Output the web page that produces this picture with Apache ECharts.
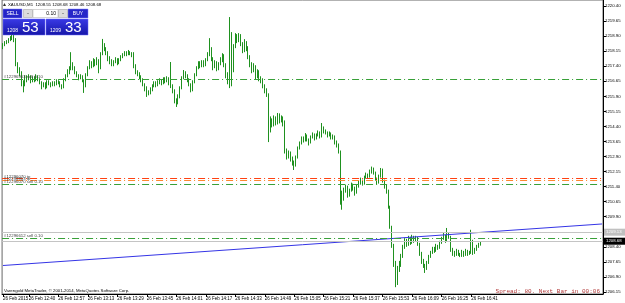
<!DOCTYPE html>
<html><head><meta charset="utf-8">
<script src="https://cdn.jsdelivr.net/npm/echarts@6/dist/echarts.min.js"></script>
<style>html,body{margin:0;padding:0;background:#fff}#c{width:625px;height:303px}</style>
</head><body><div id="c"></div>
<script>
// ---- data ----
const firstOpen = 1218.35;
const closes = [
1218.45,1218.55,1218.60,1218.70,1218.80,1218.85,1218.75,1217.50,1217.20,1217.05,
1216.55,1216.45,1216.80,1216.75,1216.85,1216.65,1216.80,1216.70,1216.90,1216.75,
1216.60,1216.40,1216.50,1216.35,1216.60,1216.55,1216.45,1216.55,1216.50,1216.65,
1216.60,1216.45,1216.35,1216.70,1216.90,1217.10,1217.25,1217.50,1217.30,1217.10,
1216.95,1216.80,1216.90,1216.70,1216.40,1216.95,1217.30,1217.55,1217.40,1217.65,
1217.50,1217.70,1217.30,1218.00,1218.45,1218.30,1218.10,1217.80,1217.65,1217.50,
1217.60,1217.75,1217.55,1217.70,1217.85,1217.95,1218.05,1218.00,1218.10,1218.05,
1217.95,1217.40,1217.10,1217.00,1216.85,1216.70,1216.50,1216.30,1216.00,1216.10,
1216.25,1216.40,1216.55,1216.45,1216.60,1216.70,1216.55,1216.75,1216.65,1216.80,
1216.55,1216.45,1216.20,1215.70,1215.60,1215.90,1216.30,1216.80,1217.05,1216.90,
1216.70,1216.50,1216.20,1216.60,1216.95,1217.30,1217.55,1217.40,1217.60,1217.45,
1217.70,1218.00,1218.30,1217.80,1217.40,1217.60,1217.30,1217.50,1217.70,1217.95,
1217.50,1217.00,1216.70,1218.80,1217.20,1218.40,1218.90,1218.70,1218.95,1218.50,
1218.20,1218.60,1218.30,1217.90,1217.50,1217.20,1217.40,1216.90,1217.10,1216.80,
1216.70,1216.40,1216.20,1216.00,1214.20,1214.70,1214.50,1214.80,1214.60,1215.00,
1214.70,1214.85,1214.55,1213.20,1212.90,1213.10,1212.80,1212.60,1212.50,1212.85,
1213.30,1213.55,1213.80,1213.70,1213.95,1213.75,1213.60,1213.85,1214.00,1213.80,
1213.95,1214.10,1213.90,1214.30,1214.15,1214.10,1213.95,1214.05,1213.85,1213.90,
1213.60,1213.50,1213.15,1211.00,1210.80,1211.20,1211.40,1211.00,1211.20,1211.50,
1211.30,1211.10,1211.40,1211.60,1211.70,1211.55,1211.85,1212.00,1211.90,1212.15,
1212.30,1212.10,1211.80,1211.60,1211.90,1212.25,1211.70,1211.40,1211.20,1210.40,
1209.40,1208.50,1207.60,1206.60,1207.30,1207.50,1207.90,1208.40,1208.70,1208.50,
1208.80,1208.60,1208.90,1208.70,1208.85,1208.55,1208.10,1207.70,1207.50,1207.30,
1207.60,1207.90,1208.10,1208.30,1208.20,1208.45,1208.35,1208.60,1208.80,1208.95,
1208.70,1209.00,1208.90,1208.30,1208.10,1208.00,1208.20,1208.05,1207.95,1208.15,
1208.00,1208.20,1208.05,1208.10,1208.70,1208.10,1208.25,1208.40,1208.55,1208.68
];
const highs = [
1218.55,1218.65,1218.70,1218.80,1218.90,1218.96,1218.95,1218.80,1217.60,1217.35,
1217.15,1216.70,1216.95,1216.95,1217.00,1216.95,1216.90,1216.90,1217.00,1216.95,
1216.80,1216.65,1216.60,1216.60,1216.70,1216.70,1216.60,1216.65,1216.65,1216.75,
1216.70,1216.65,1216.50,1216.80,1217.00,1217.25,1217.40,1218.10,1217.60,1217.40,
1217.15,1217.00,1217.00,1216.95,1216.75,1217.05,1217.40,1217.70,1217.65,1217.80,
1217.75,1217.85,1217.75,1218.10,1218.76,1218.55,1218.35,1218.15,1217.90,1217.75,
1217.70,1217.85,1217.80,1217.80,1217.95,1218.05,1218.15,1218.15,1218.21,1218.15,
1218.10,1218.10,1217.50,1217.20,1217.10,1216.95,1216.80,1216.55,1216.40,1216.20,
1216.35,1216.50,1216.65,1216.65,1216.70,1216.80,1216.75,1216.85,1216.85,1216.90,
1216.85,1217.61,1216.50,1216.25,1215.80,1216.00,1216.40,1216.90,1217.21,1217.15,
1217.00,1216.80,1216.55,1216.70,1217.05,1217.40,1217.65,1217.65,1217.70,1217.70,
1217.80,1218.10,1218.80,1218.35,1217.85,1217.70,1217.65,1217.60,1217.85,1218.05,
1218.00,1217.55,1217.10,1219.85,1219.10,1218.50,1219.05,1219.00,1219.05,1219.00,
1218.60,1218.75,1218.65,1218.40,1217.95,1217.60,1217.55,1217.45,1217.25,1217.20,
1216.90,1216.80,1216.50,1216.30,1216.05,1214.90,1214.80,1214.95,1214.90,1215.07,
1215.05,1214.95,1214.90,1214.70,1213.30,1213.20,1213.15,1212.90,1212.70,1212.95,
1213.40,1213.65,1213.90,1213.90,1214.07,1214.00,1213.80,1213.95,1214.10,1214.05,
1214.05,1214.20,1214.15,1214.57,1214.40,1214.25,1214.15,1214.15,1214.10,1214.00,
1213.95,1213.70,1213.55,1213.20,1211.20,1211.35,1211.50,1211.45,1211.30,1211.60,
1211.55,1211.40,1211.50,1211.70,1211.85,1211.75,1211.95,1212.10,1212.05,1212.25,
1212.40,1212.35,1212.15,1211.85,1212.00,1212.33,1212.30,1211.75,1211.50,1211.25,
1210.45,1209.45,1208.55,1207.70,1207.45,1207.70,1208.05,1208.50,1208.85,1208.80,
1208.95,1208.90,1209.00,1208.95,1208.95,1208.90,1208.60,1208.15,1207.80,1207.55,
1207.70,1208.00,1208.20,1208.40,1208.40,1208.55,1208.50,1208.70,1208.90,1209.10,
1209.00,1209.34,1209.10,1208.95,1208.35,1208.20,1208.30,1208.25,1208.10,1208.25,
1208.20,1208.30,1208.25,1208.20,1209.25,1208.75,1208.35,1208.50,1208.60,1208.68
];
const lows = [
1218.25,1218.40,1218.50,1218.55,1218.65,1218.70,1218.60,1217.40,1217.05,1216.90,
1216.40,1216.10,1216.40,1216.60,1216.70,1216.55,1216.60,1216.60,1216.65,1216.65,
1216.50,1216.25,1216.35,1216.25,1216.30,1216.45,1216.35,1216.40,1216.40,1216.45,
1216.50,1216.35,1216.25,1216.30,1216.65,1216.85,1217.00,1217.20,1217.20,1217.00,
1216.85,1216.70,1216.75,1216.60,1216.07,1216.35,1216.90,1217.25,1217.30,1217.35,
1217.40,1217.45,1217.05,1217.25,1217.95,1218.15,1217.95,1217.65,1217.50,1217.40,
1217.40,1217.55,1217.45,1217.50,1217.65,1217.80,1217.90,1217.90,1217.95,1217.95,
1217.85,1217.30,1217.00,1216.90,1216.75,1216.60,1216.40,1216.15,1215.87,1215.95,
1216.00,1216.15,1216.35,1216.35,1216.40,1216.50,1216.45,1216.50,1216.55,1216.60,
1216.45,1216.31,1216.05,1215.55,1215.37,1215.50,1215.80,1216.25,1216.75,1216.80,
1216.60,1216.40,1216.10,1216.15,1216.55,1216.90,1217.25,1217.30,1217.35,1217.35,
1217.40,1217.65,1217.90,1217.65,1217.20,1217.30,1217.15,1217.20,1217.45,1217.60,
1217.35,1216.80,1216.50,1216.31,1216.40,1217.10,1218.30,1218.55,1218.60,1218.40,
1218.05,1218.10,1218.15,1217.75,1217.35,1217.05,1217.10,1216.75,1216.80,1216.65,
1216.55,1216.30,1216.05,1215.87,1213.62,1214.10,1214.35,1214.40,1214.45,1214.50,
1214.55,1214.60,1214.40,1213.05,1212.75,1212.80,1212.65,1212.45,1212.23,1212.40,
1212.80,1213.25,1213.50,1213.60,1213.65,1213.65,1213.45,1213.55,1213.80,1213.70,
1213.75,1213.90,1213.80,1213.85,1214.05,1214.00,1213.85,1213.90,1213.75,1213.75,
1213.50,1213.35,1213.05,1210.50,1210.25,1210.70,1211.10,1210.85,1210.90,1211.15,
1211.20,1210.95,1211.05,1211.35,1211.50,1211.45,1211.50,1211.80,1211.80,1211.85,
1212.05,1212.00,1211.70,1211.50,1211.55,1211.85,1211.60,1211.30,1211.05,1210.30,
1209.30,1208.35,1207.40,1206.39,1206.50,1207.15,1207.40,1207.85,1208.30,1208.40,
1208.45,1208.50,1208.55,1208.60,1208.65,1208.45,1207.95,1207.55,1207.35,1207.10,
1207.25,1207.55,1207.85,1208.05,1208.10,1208.15,1208.25,1208.30,1208.55,1208.75,
1208.60,1208.65,1208.80,1208.15,1207.95,1207.90,1207.95,1207.95,1207.89,1207.90,
1207.90,1207.95,1207.95,1208.00,1208.05,1208.00,1208.05,1208.20,1208.35,1208.46
];
const yTicks = [1206.15,1206.90,1207.65,1208.40,1209.15,1209.90,1210.65,1211.40,1212.15,1212.90,
  1213.65,1214.40,1215.15,1215.90,1216.65,1217.40,1218.15,1218.90,1219.65,1220.40];
const dateLabel = '26 Feb 2015';
const dayPrefix = '26 Feb ';
const orderLevels = [1216.75, 1211.80, 1211.70, 1211.52, 1208.84];
const orderLabels = ['#12296903 sell 0.10', '#12296070 tp', '#12296903 tp', '#12296070 sell 0.10', '#12296612 sell 0.10'];
const orderKinds  = ['open', 'tp', 'tp2', 'open', 'open'];
const bidPrice = 1208.68;
const askLinePrice = 1209.13;
const trendStart = 1207.47;
const trendEnd = 1209.54;
const headerText = 'XAUUSD,M1  1208.55 1208.68 1208.46 1208.68';
const sellPrice = ['1208', '53'];
const buyPrice = ['1209', '33'];
const lotText = '0.10';
const copyright = 'Varengold MetaTrader, \u00A9 2001-2014, MetaQuotes Software Corp.';
const spreadText = 'Spread: 80. Next Bar in 00:06';

// ---- build ----
const TOTAL_SLOTS = 326;
function pad(n){return (n<10?'0':'')+n;}
const cats = [];
for (let i = 0; i < TOTAL_SLOTS; i++) {
  const m = 12*60 + 26 + i + (i >= 15 ? 1 : 0);
  cats.push(pad(Math.floor(m/60)) + ':' + pad(m%60));
}
const candles = closes.map((c, i) => [i === 0 ? firstOpen : closes[i-1], c, lows[i], highs[i]]);
const lastBar = closes.length - 1;
function showIdx(i){ return i === 0 || (i >= 14 && (i - 14) % 16 === 0 && i <= lastBar - 4); }

const FONT = "'Liberation Sans', Arial, sans-serif";
const GREEN = '#1f911f';
const styleFor = {
  open: {color:'#38a038', type:[7,3,1,3]},
  tp:   {color:'#ff4010', type:[7,3,1,3]},
  tp2:  {color:'#ff8830', type:[7,3,1,3]}
};
const mlData = orderLevels.map((v, i) => ({
  yAxis: v,
  lineStyle: {color: styleFor[orderKinds[i]].color, type: styleFor[orderKinds[i]].type, width: 1.2},
  label: {show: true, formatter: orderLabels[i], position: 'insideStartTop', distance: [2, 0],
          fontSize: 4.3, fontFamily: FONT, color: '#444'}
}));
mlData.push({yAxis: askLinePrice, lineStyle:{color:'#c4c4c4', type:'solid', width:1}, label:{show:false}});
mlData.push({yAxis: bidPrice, lineStyle:{color:'#c4c4c4', type:'solid', width:1}, label:{show:false}});

const chart = echarts.init(document.getElementById('c'), null, {renderer:'canvas'});
const option = {
  animation: false,
  backgroundColor: '#fff',
  grid: {left: 2, right: 22, top: 0, bottom: 9, show: true, borderColor: '#666', borderWidth: 1},
  xAxis: {
    type: 'category', data: cats, boundaryGap: true,
    axisLine: {show: true, lineStyle: {color: '#000', width: 1}},
    axisTick: {show: true, alignWithLabel: true, interval: (i) => showIdx(i), length: 3, lineStyle:{color:'#000'}},
    axisLabel: {show: true, interval: (i) => showIdx(i), align: 'left', margin: 2,
      formatter: (v, i) => i === 0 ? dateLabel : dayPrefix + v,
      fontSize: 4.5, fontFamily: FONT, color: '#000'},
    splitLine: {show: false}
  },
  yAxis: {
    type: 'value', position: 'right', min: 1206.05, max: 1220.70, scale: true,
    axisLine: {show: true, lineStyle: {color: '#000', width: 1}},
    axisTick: {show: true, customValues: yTicks, length: 3, lineStyle:{color:'#000'}},
    axisLabel: {show: true, customValues: yTicks, formatter: (v) => v.toFixed(2), margin: 2,
      fontSize: 4.3, fontFamily: FONT, color: '#000'},
    splitLine: {show: false}
  },
  series: [
    {
      type: 'candlestick', data: candles, barWidth: 1,
      itemStyle: {color: GREEN, color0: GREEN, borderColor: GREEN, borderColor0: GREEN, borderWidth: 1},
      markLine: {silent: true, symbol: ['none','none'], data: mlData}
    },
    {
      type: 'line', data: [[0, trendStart], [TOTAL_SLOTS - 1, trendEnd]], symbol: 'none', silent: true,
      lineStyle: {color: '#3535e6', width: 1}, z: 3
    }
  ],
  graphic: []
};
chart.setOption(option);

// overlays
const g = [];
g.push({type:'polygon', shape:{points:[[3,6],[6,6],[4.5,3]]}, style:{fill:'#333'}});
g.push({type:'text', x:8, y:4.5, style:{text: headerText, fontSize:4.3, fontFamily:FONT, fill:'#000', verticalAlign:'middle'}});
function btn(x,w,label){
  g.push({type:'rect', shape:{x:x,y:9,width:w,height:9}, style:{fill:'#2626c8', stroke:'#8080ff', lineWidth:0.5}});
  g.push({type:'text', x:x+w/2, y:13.7, style:{text:label, fontSize:5, fontFamily:FONT, fill:'#fff', align:'center', verticalAlign:'middle'}});
}
btn(3,19,'SELL'); btn(68,20,'BUY');
g.push({type:'rect', shape:{x:23.5,y:9.5,width:9,height:8}, style:{fill:'#dcdcdc', stroke:'#9a9a9a', lineWidth:0.5}});
g.push({type:'rect', shape:{x:33,y:9.5,width:25,height:8}, style:{fill:'#fff', stroke:'#aaa', lineWidth:0.5}});
g.push({type:'rect', shape:{x:58.5,y:9.5,width:9,height:8}, style:{fill:'#dcdcdc', stroke:'#9a9a9a', lineWidth:0.5}});
g.push({type:'text', x:28, y:13.5, style:{text:'-', fontSize:6, fontFamily:FONT, fill:'#333', align:'center', verticalAlign:'middle'}});
g.push({type:'text', x:63, y:13.5, style:{text:'-', fontSize:6, fontFamily:FONT, fill:'#333', align:'center', verticalAlign:'middle'}});
g.push({type:'text', x:56, y:13.7, style:{text:lotText, fontSize:5, fontFamily:FONT, fill:'#000', align:'right', verticalAlign:'middle'}});
function priceBox(x, w, p){
  g.push({type:'rect', shape:{x:x,y:19,width:w,height:16},
    style:{fill:new echarts.graphic.LinearGradient(0,0,0,1,[{offset:0,color:'#3a3ae6'},{offset:1,color:'#1616a8'}]), stroke:'#6a6aff', lineWidth:0.5}});
  g.push({type:'text', x:x+4, y:30.5, style:{text:p[0], fontSize:5, fontFamily:FONT, fill:'#fff', verticalAlign:'middle'}});
  g.push({type:'text', x:x+19, y:27.5, style:{text:p[1], fontSize:15, fontFamily:FONT, fill:'#fff', verticalAlign:'middle'}});
}
priceBox(3, 42, sellPrice); priceBox(46, 42, buyPrice);
g.push({type:'text', x:4, y:290.5, style:{text: copyright, fontSize:4.3, fontFamily:FONT, fill:'#000', verticalAlign:'middle'}});
g.push({type:'text', x:600, y:291.5, style:{text: spreadText, fontSize:6, fontFamily:"'Liberation Mono', monospace", fill:'#b03636', align:'right', verticalAlign:'middle'}});
const yAsk = chart.convertToPixel({yAxisIndex:0}, askLinePrice);
const yBid = chart.convertToPixel({yAxisIndex:0}, bidPrice);
g.push({type:'rect', shape:{x:604,y:yAsk-3.5,width:21,height:7}, style:{fill:'#c0c0c0'}, z:10});
g.push({type:'text', x:606, y:yAsk, style:{text:askLinePrice.toFixed(2), fontSize:4.3, fontFamily:FONT, fill:'#fff', verticalAlign:'middle'}, z:11});
g.push({type:'rect', shape:{x:604,y:yBid-3.5,width:21,height:7}, style:{fill:'#000'}, z:10});
g.push({type:'text', x:606, y:yBid, style:{text:bidPrice.toFixed(2), fontSize:4.3, fontFamily:FONT, fill:'#fff', verticalAlign:'middle'}, z:11});
chart.setOption({graphic: g});
</script>
</body></html>
